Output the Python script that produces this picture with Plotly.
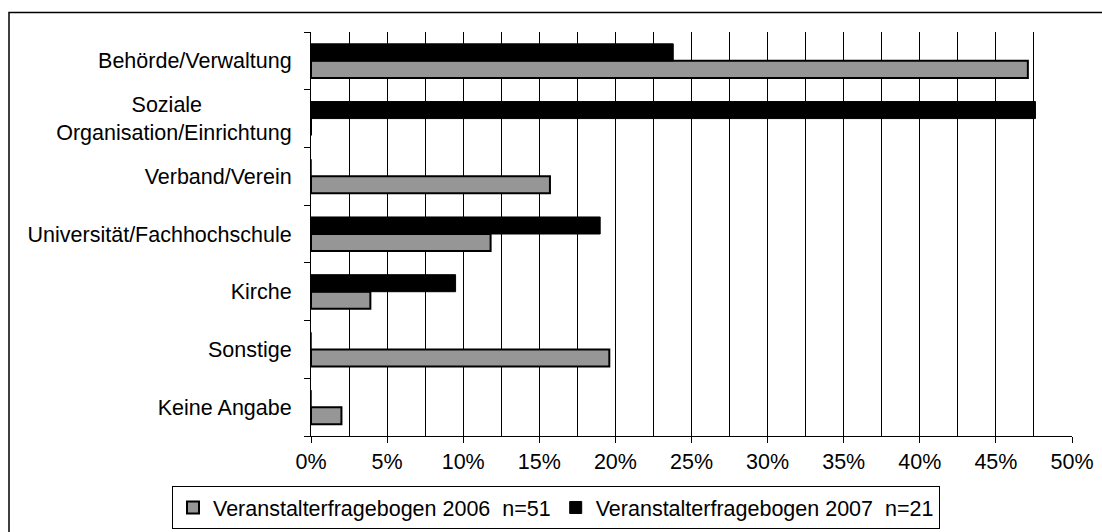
import plotly.graph_objects as go

categories = [
    "Behörde/Verwaltung",
    "Soziale Organisation/Einrichtung",
    "Verband/Verein",
    "Universität/Fachhochschule",
    "Kirche",
    "Sonstige",
    "Keine Angabe",
]
values_2006 = [47.1, 0, 15.7, 11.8, 3.9, 19.6, 2.0]
values_2007 = [23.8, 47.6, 0, 19.0, 9.5, 0, 0]
name_2006 = "Veranstalterfragebogen 2006  n=51"
name_2007 = "Veranstalterfragebogen 2007  n=21"
x_ticks = [0, 5, 10, 15, 20, 25, 30, 35, 40, 45, 50]

FONT = "Arial, 'Liberation Sans', sans-serif"
FS = 21.5

# display labels (line break for the long category, centred look)
def display(c):
    if c == "Soziale Organisation/Einrichtung":
        return "Soziale" + "\u00a0" * 15 + "<br>Organisation/Einrichtung"
    return c

labels = [display(c) for c in categories]

W, H = 1102, 532
ml, mr, mt, mb = 311, 30, 32, 96
pw, ph = W - ml - mr, H - mt - mb

def px_x(x):
    return (x - ml) / pw

def px_y(y):
    return (H - mb - y) / ph

fig = go.Figure()
fig.add_trace(go.Bar(
    y=labels, x=values_2006, name=name_2006, orientation="h",
    marker=dict(color="#969696", line=dict(color="black", width=2)),
))
fig.add_trace(go.Bar(
    y=labels, x=values_2007, name=name_2007, orientation="h",
    marker=dict(color="black", line=dict(color="black", width=1)),
))

shapes = [
    # outer frame
    dict(type="rect", xref="paper", yref="paper",
         x0=px_x(9), x1=px_x(1106), y0=px_y(540), y1=px_y(12.5),
         line=dict(color="black", width=1.5), fillcolor="rgba(0,0,0,0)"),
]

fig.update_layout(
    width=W, height=H,
    margin=dict(l=ml, r=mr, t=mt, b=mb, autoexpand=False),
    paper_bgcolor="white", plot_bgcolor="white",
    font=dict(family=FONT, size=FS, color="black"),
    barmode="group", bargap=0.41, bargroupgap=0,
    showlegend=True,
    legend=dict(
        orientation="h",
        x=px_x(172), y=px_y(486), xanchor="left", yanchor="top",
        bgcolor="white", bordercolor="black", borderwidth=1,
        font=dict(family=FONT, size=FS, color="black"),
        itemwidth=30, tracegroupgap=0,
    ),
    shapes=shapes,
    xaxis=dict(
        range=[0, 50], tickvals=x_ticks, ticktext=[f"{v}%" for v in x_ticks],
        showgrid=True, gridcolor="black", gridwidth=1,
        minor=dict(dtick=2.5, tick0=0, showgrid=True, gridcolor="black", gridwidth=1, ticks=""),
        showline=True, linecolor="black", linewidth=1,
        ticks="outside", ticklen=6, tickcolor="black",
        zeroline=False, fixedrange=True, automargin=False,
        tickfont=dict(family=FONT, size=FS, color="black"),
    ),
    yaxis=dict(
        categoryorder="array", categoryarray=labels[::-1],
        showline=True, linecolor="black", linewidth=1,
        ticks="outside", ticklen=6, tickcolor="black", tickson="boundaries",
        showgrid=False, ticklabelstandoff=14, automargin=False, fixedrange=True,
        tickfont=dict(family=FONT, size=FS, color="black"),
    ),
)

fig.write_html(
    "out.html",
    config={"displayModeBar": False},
    post_script="document.body.style.margin='0';document.body.style.overflow='hidden';",
)
